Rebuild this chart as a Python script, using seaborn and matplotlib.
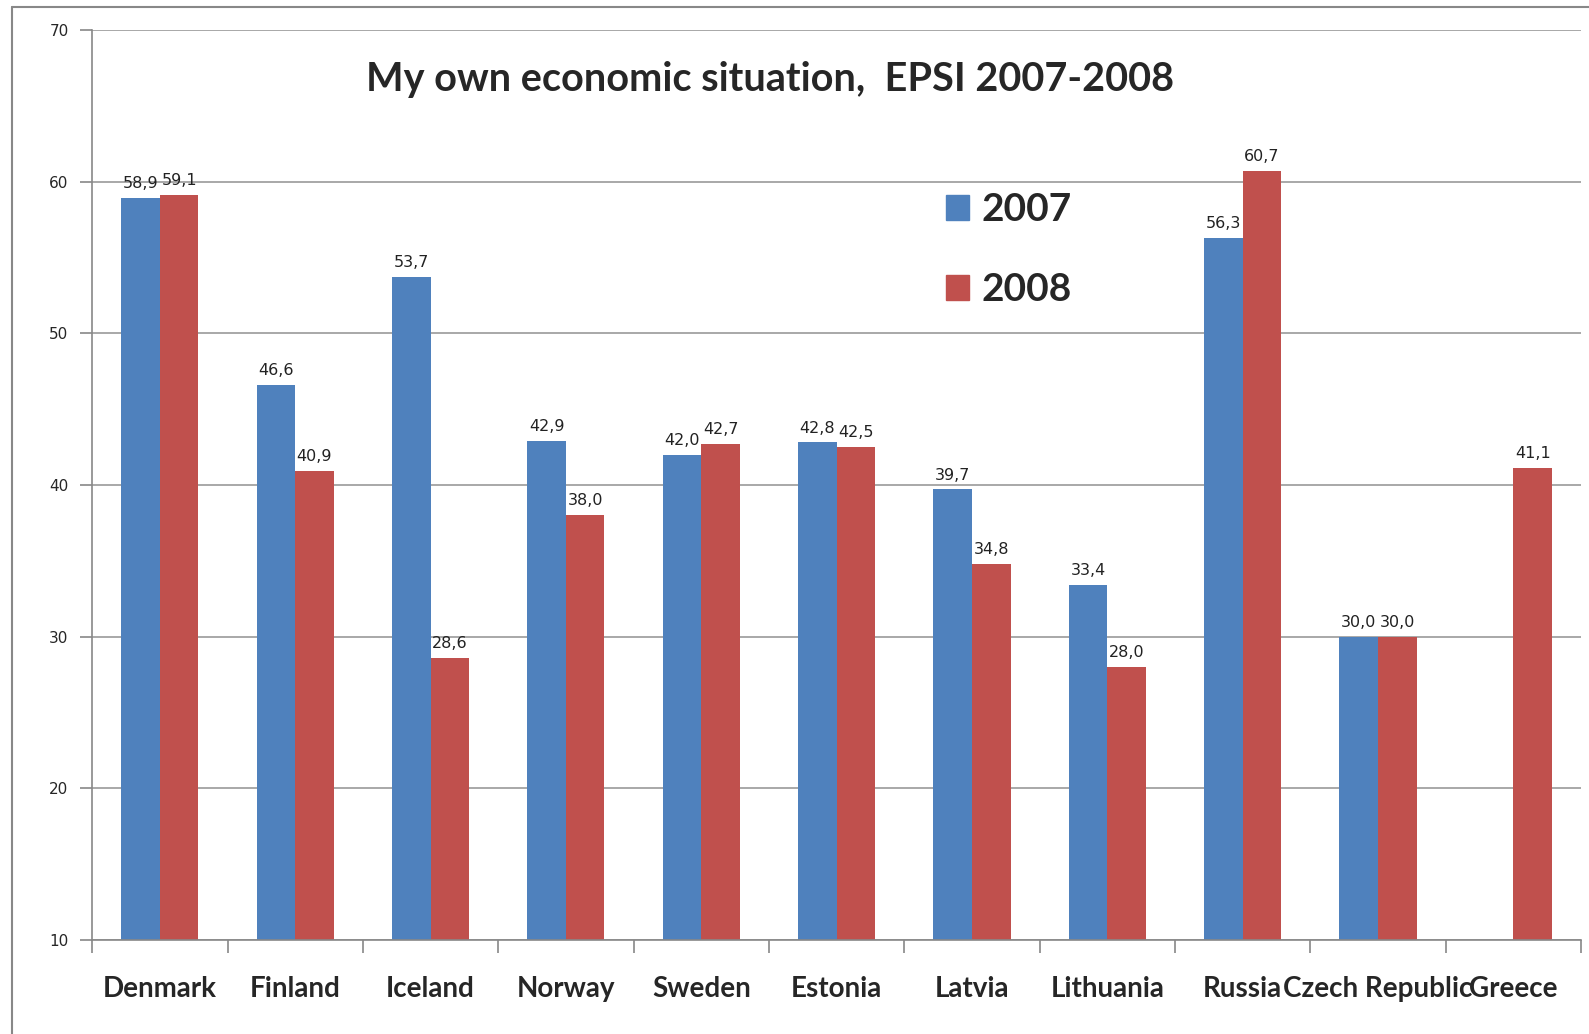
import numpy as np
import pandas as pd
import seaborn as sns
import matplotlib.pyplot as plt
from matplotlib.lines import Line2D
from matplotlib.patches import Patch

countries = ["Denmark", "Finland", "Iceland", "Norway", "Sweden", "Estonia",
             "Latvia", "Lithuania", "Russia", "Czech Republic", "Greece"]
values_2007 = [58.9, 46.6, 53.7, 42.9, 42.0, 42.8, 39.7, 33.4, 56.3, 30.0, np.nan]
values_2008 = [59.1, 40.9, 28.6, 38.0, 42.7, 42.5, 34.8, 28.0, 60.7, 30.0, 41.1]
years = ["2007", "2008"]
colors = ["#4F81BD", "#C0504D"]

df = pd.DataFrame({
    "country": countries * 2,
    "year": ["2007"] * len(countries) + ["2008"] * len(countries),
    "value": values_2007 + values_2008,
})

sns.set_style("white")
plt.rcParams["font.family"] = ["Lato", "DejaVu Sans"]

fig = plt.figure(figsize=(15.89, 10.34), dpi=100)
ax = fig.add_axes([0.058, 0.091, 0.937, 0.880])

sns.barplot(data=df, x="country", y="value", hue="year", hue_order=years,
            order=countries, palette=colors, width=0.57, saturation=1,
            errorbar=None, legend=False, linewidth=0, ax=ax)

# value labels with comma decimals
for cont in ax.containers:
    labs = []
    for bar in cont:
        h = bar.get_height()
        labs.append("" if np.isnan(h) else f"{h:.1f}".replace(".", ","))
    ax.bar_label(cont, labels=labs, padding=5, fontsize=11.5,
                 color="#222222", family="DejaVu Sans")

ax.set_ylim(10, 70)
ax.set_xlim(-0.5, len(countries) - 0.5)
ax.set_yticks(range(10, 71, 10))
ax.yaxis.grid(True, color="#999999", linewidth=1.2)
ax.set_axisbelow(True)
ax.set_xlabel("")
ax.set_ylabel("")

for side in ["top", "right"]:
    ax.spines[side].set_visible(False)
for side in ["left", "bottom"]:
    ax.spines[side].set_color("#888888")
    ax.spines[side].set_linewidth(1.2)

ax.tick_params(axis="y", length=9, width=1.2, color="#888888",
               labelsize=11, pad=8, direction="out", left=True)
for t in ax.get_yticklabels():
    t.set_family("DejaVu Sans")
ax.tick_params(axis="x", which="major", length=0, pad=26, labelsize=20)
ax.set_xticks(np.arange(-0.5, len(countries), 1.0), minor=True)
ax.tick_params(axis="x", which="minor", length=9, width=1.2, color="#888888",
               direction="out", bottom=True)
for t in ax.get_xticklabels():
    t.set_fontweight("bold")

ax.text(0.455, 0.946, "My own economic situation,  EPSI 2007-2008",
        transform=ax.transAxes, ha="center", va="center",
        fontsize=28.5, fontweight="bold")

handles = [Patch(color=c, label=y) for c, y in zip(colors, years)]
ax.legend(handles=handles, loc="upper left", bbox_to_anchor=(0.55, 0.86),
          frameon=False, prop={"weight": "bold", "size": 28},
          handlelength=0.6, handleheight=0.6, labelspacing=1.15,
          handletextpad=0.3)

# outer chart frame
fig.add_artist(Line2D([12 / 1589, 12 / 1589], [0, 1 - 7 / 1034],
                      transform=fig.transFigure, color="#888888", lw=1.5))
fig.add_artist(Line2D([12 / 1589, 1], [1 - 7 / 1034, 1 - 7 / 1034],
                      transform=fig.transFigure, color="#888888", lw=1.5))

fig.savefig("out.png", dpi=100)
